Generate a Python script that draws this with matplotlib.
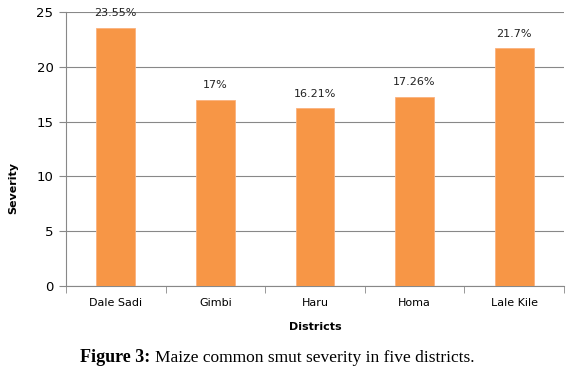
import matplotlib.pyplot as plt
import numpy as np

districts = ["Dale Sadi", "Gimbi", "Haru", "Homa", "Lale Kile"]
severity = [23.55, 17.0, 16.21, 17.26, 21.7]
labels = ["23.55%", "17%", "16.21%", "17.26%", "21.7%"]

fig = plt.figure(figsize=(5.82, 3.8), dpi=100)
ax = fig.add_axes([0.1134, 0.2474, 0.8556, 0.7206])

x = np.arange(len(districts))
ax.bar(x, severity, width=0.39, color="#F79646", edgecolor="#FAB27E", linewidth=0.6, zorder=3)
for xi, v, lab in zip(x, severity, labels):
    ax.annotate(lab, (xi, v), xytext=(0, 7), textcoords="offset points",
                ha="center", va="bottom", fontsize=8, color="#222222", zorder=4)

ax.set_xlim(-0.5, 4.5)
ax.set_ylim(0, 25)
ax.set_yticks([0, 5, 10, 15, 20, 25])
ax.set_xticks(x)
ax.set_xticklabels(districts, fontsize=8)
ax.set_xticks(np.arange(-0.5, 5, 1), minor=True)
ax.tick_params(axis="x", which="major", length=0, pad=9)
ax.tick_params(axis="x", which="minor", length=5, color="#888888")
ax.tick_params(axis="y", length=5, color="#888888", labelsize=9.5, pad=4)
ax.yaxis.grid(True, color="#888888", linewidth=0.8, zorder=0)

for s in ["top", "right"]:
    ax.spines[s].set_visible(False)
ax.spines["left"].set_color("#888888")
ax.spines["bottom"].set_color("#888888")

ax.set_ylabel("Severity", fontsize=8, fontweight="bold")
ax.yaxis.set_label_coords(-0.096, 0.358)
ax.set_xlabel("Districts", fontsize=8, fontweight="bold", labelpad=10)

fig.text(0.258, 0.058, "Figure 3:", fontsize=13, fontweight="bold", family="Liberation Serif",
         ha="right", va="center")
fig.text(0.266, 0.058, "Maize common smut severity in five districts.", fontsize=12.5,
         family="Liberation Serif", ha="left", va="center")

fig.savefig("out.png", dpi=100)
